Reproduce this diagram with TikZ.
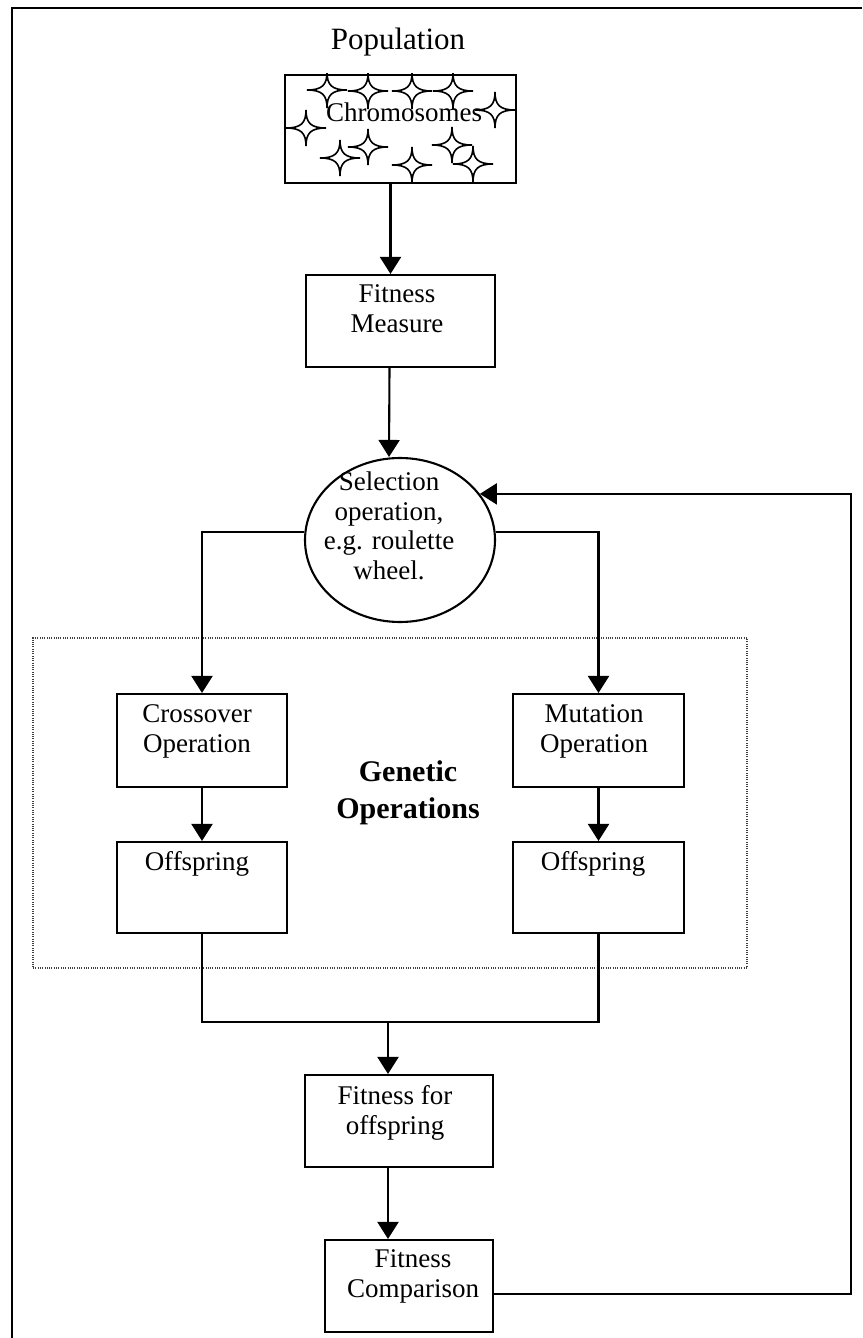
\documentclass[tikz,border=0pt]{standalone}
\usepackage{fontspec}
\setmainfont{Liberation Serif}
\usetikzlibrary{arrows.meta,shapes.geometric}
\begin{document}
\begin{tikzpicture}[x=1pt,y=-1pt,
  line/.style={line width=2.1pt},
  box/.style={draw,line width=2.1pt,rectangle,inner sep=0pt},
  oval/.style={draw,line width=2.1pt,ellipse,inner sep=0pt,minimum width=190pt,minimum height=164pt},
  group/.style={draw=black!75,line width=1.1pt,dash pattern=on 1pt off 1.3pt,rectangle,inner sep=0pt},
  txt/.style={inner sep=0pt,align=center,font=\fontsize{27}{30.5}\selectfont},
  arr/.style={line width=2.1pt,-{Triangle[width=21pt,length=17pt]}},
  spark/.pic={\draw[line width=1.6pt] (0,-18) .. controls (0,-5) and (-5,0) .. (-20,0)
      .. controls (-5,0) and (0,5) .. (0,18) .. controls (0,5) and (5,0) .. (20,0)
      .. controls (5,0) and (0,-5) .. cycle;}
]
\useasboundingbox (0,0) rectangle (862,1338);

% page frame
\draw[line] (12,1338) -- (12,8) -- (862,8);

% population of chromosomes
\node[txt,font=\fontsize{31}{35}\selectfont,anchor=base] (pop) at (398,50) {Population};
\node[box,minimum width=231pt,minimum height=108pt] (chr) at (400.5,129) {};
\begin{scope}
  \clip (chr.north west) rectangle (chr.south east);
  \foreach \p in {(327,90),(368,91),(412,91),(453,91),(495,110),(306,128),
                  (368,147),(340,158),(412,165),(452,145),(473,164)}
    \pic at \p {spark};
\end{scope}
\node[txt,anchor=base] (chr-t) at (404,121) {Chromosomes};

% fitness of the population
\node[box,minimum width=189pt,minimum height=92pt] (fm) at (400.5,321) {};
\node[txt,anchor=north] (fm-t) at (397,284) {Fitness\\Measure};

% selection
\node[oval] (sel) at (400,540) {};
\node[txt,anchor=north,font=\fontsize{27}{29.5}\selectfont] (sel-t) at (389,472)
  {Selection\\operation,\\e.g. roulette\\wheel.};

% genetic operations
\node[group,minimum width=714pt,minimum height=330pt] (grp) at (390,803) {};
\node[box,minimum width=170pt,minimum height=93pt] (co) at (202,740.5) {};
\node[txt,anchor=north] (co-t) at (197,704) {Crossover\\Operation};
\node[box,minimum width=171pt,minimum height=93pt] (mu) at (598.5,740.5) {};
\node[txt,anchor=north] (mu-t) at (594,704) {Mutation\\Operation};
\node[box,minimum width=170pt,minimum height=91pt] (o1) at (202,887.5) {};
\node[txt,anchor=base] (o1-t) at (197,870) {Offspring};
\node[box,minimum width=171pt,minimum height=91pt] (o2) at (598.5,887.5) {};
\node[txt,anchor=base] (o2-t) at (593,870) {Offspring};
\node[txt,anchor=north,font=\bfseries\fontsize{30}{37}\selectfont] (grp-t) at (408,760)
  {Genetic\\Operations};

% evaluation of the offspring
\node[box,minimum width=188pt,minimum height=92pt] (ffo) at (399,1121) {};
\node[txt,anchor=north] (ffo-t) at (395,1085) {Fitness for\\offspring};
\node[box,minimum width=168pt,minimum height=92pt] (fc) at (409,1286) {};
\node[txt,anchor=north] (fc-t) at (413,1249) {Fitness\\Comparison};

% connectors
\draw[arr] ([xshift=-10pt]chr.south) -- ([xshift=-10pt]fm.north);
\draw[arr] ([xshift=-11pt]fm.south) -- ([xshift=-11pt]sel.north);
\draw[arr] (sel.175) -| (co.north);
\draw[arr] (sel.5) -| (mu.north);
\draw[arr] (co.south) -- (o1.north);
\draw[arr] (mu.south) -- (o2.north);
\coordinate (jn) at (388,1022);
\draw[line] (o1.south) |- (jn) -| (o2.south);
\draw[arr] (jn) -- (jn |- ffo.north);
\draw[arr] ([xshift=-11pt]ffo.south) -- ([xshift=-21pt]fc.north);
\coordinate (rc) at (851,1294);
\draw[arr] (fc.east |- rc) -- (rc) |- (sel.30);
\end{tikzpicture}
\end{document}
